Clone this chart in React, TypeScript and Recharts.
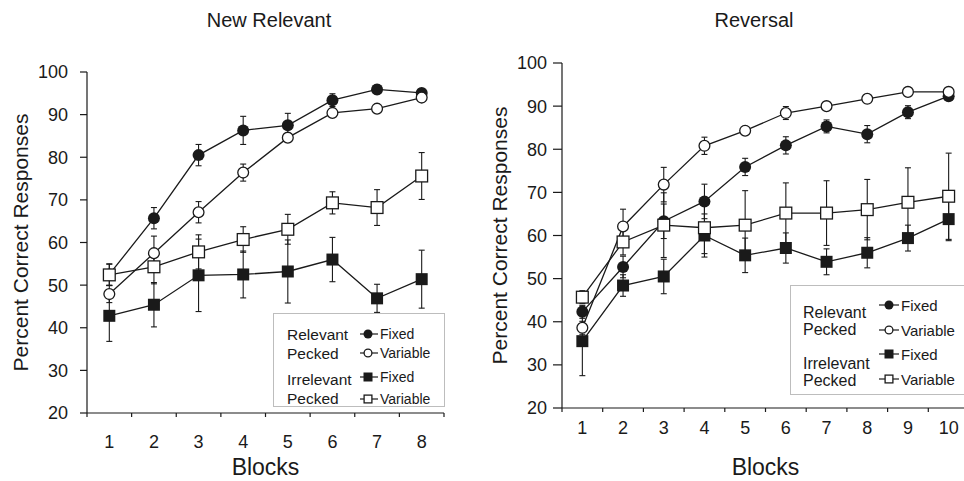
import React from 'react';
import { LineChart, Line, XAxis, YAxis, ErrorBar, Legend } from 'recharts';

const FONT = '"Liberation Sans", Arial, Helvetica, sans-serif';
const INK = '#1a1a1a';

// ---- New Relevant panel ----
const nrBlocks = [1, 2, 3, 4, 5, 6, 7, 8];
const nrRelFixed = [52.5, 65.7, 80.5, 86.3, 87.5, 93.4, 95.9, 95.1];
const nrRelFixedErr = [2.5, 2.5, 2.5, 3.3, 2.8, 1.5, 1, 1];
const nrRelVar = [47.9, 57.5, 67.1, 76.4, 84.6, 90.4, 91.4, 94.0];
const nrRelVarErr = [2, 4, 2.5, 2, 1, 1, 1, 1];
const nrIrrFixed = [42.8, 45.4, 52.3, 52.5, 53.2, 56.0, 46.9, 51.4];
const nrIrrFixedErr = [6, 5.2, 8.5, 5.5, 7.4, 5.2, 3.3, 6.8];
const nrIrrVar = [52.4, 54.3, 57.8, 60.7, 63.1, 69.3, 68.2, 75.6];
const nrIrrVarErr = [2.5, 4, 4, 3, 3.5, 2.6, 4.2, 5.5];

// ---- Reversal panel ----
const rvBlocks = [1, 2, 3, 4, 5, 6, 7, 8, 9, 10];
const rvRelFixed = [42.3, 52.7, 63.3, 67.9, 75.9, 80.9, 85.3, 83.5, 88.6, 92.3];
const rvRelFixedErr = [1.5, 2.5, 4, 4, 2, 2, 1.5, 2, 1.5, 1];
const rvRelVar = [38.6, 62.1, 71.8, 80.8, 84.3, 88.4, 90.0, 91.7, 93.3, 93.3];
const rvRelVarErr = [1.5, 4, 4, 2, 1, 1.5, 1, 1, 1, 1];
const rvIrrFixed = [35.5, 48.4, 50.5, 60.0, 55.4, 57.1, 53.9, 56.0, 59.4, 63.8];
const rvIrrFixedErr = [8, 2.5, 4, 5, 4, 3.5, 3, 3.5, 3, 5];
const rvIrrVar = [45.7, 58.5, 62.4, 61.8, 62.4, 65.2, 65.2, 66.0, 67.7, 69.1];
const rvIrrVarErr = [1.5, 3, 7.5, 6, 8, 7, 7.5, 7, 8, 10];

const yTicks = [20, 30, 40, 50, 60, 70, 80, 90, 100];
const titles = ['New Relevant', 'Reversal'];
const yLabel = 'Percent Correct Responses';
const xLabel = 'Blocks';
const legendGroups = [
  { lines: ['Relevant', 'Pecked'], items: [{ label: 'Fixed', shape: 'fc' }, { label: 'Variable', shape: 'oc' }] },
  { lines: ['Irrelevant', 'Pecked'], items: [{ label: 'Fixed', shape: 'fs' }, { label: 'Variable', shape: 'os' }] },
];

function buildData(blocks: number[], rf: number[], rfe: number[], rv: number[], rve: number[], if_: number[], ife: number[], iv: number[], ive: number[]) {
  return blocks.map((b, i) => ({
    block: b,
    relFixed: rf[i], relFixedErr: rfe[i],
    relVar: rv[i], relVarErr: rve[i],
    irrFixed: if_[i], irrFixedErr: ife[i],
    irrVar: iv[i], irrVarErr: ive[i],
  }));
}

function halfTicks(blocks: number[]) {
  const t: number[] = [];
  blocks.forEach((b) => { t.push(b - 0.5); t.push(b); });
  t.push(blocks[blocks.length - 1] + 0.5);
  return t;
}

function Marker({ shape, cx, cy, size }: { shape: string; cx: number; cy: number; size: number }) {
  const r = size / 2;
  if (shape === 'fc') return <circle cx={cx} cy={cy} r={r} fill={INK} />;
  if (shape === 'oc') return <circle cx={cx} cy={cy} r={r - 0.6} fill="#fff" stroke={INK} strokeWidth={1.3} />;
  if (shape === 'fs') return <rect x={cx - r} y={cy - r} width={size} height={size} fill={INK} />;
  return <rect x={cx - r + 0.6} y={cy - r + 0.6} width={size - 1.2} height={size - 1.2} fill="#fff" stroke={INK} strokeWidth={1.3} />;
}

const dotFn = (shape: string, size: number) => (p: any) => {
  if (p.cx == null || p.cy == null) return <g key={p.index} />;
  return (
    <g key={`${shape}-${p.index}`}>
      <Marker shape={shape} cx={p.cx} cy={p.cy} size={size} />
    </g>
  );
};

const makeXTick = (gap: number, fontSize: number) => (props: any) => {
  const { x, y, payload } = props;
  const v = payload.value;
  if (!Number.isInteger(v)) {
    return <line x1={x} x2={x} y1={y - gap} y2={y - gap + 4} stroke={INK} strokeWidth={1.2} />;
  }
  return (
    <text x={x} y={y} dy="0.71em" textAnchor="middle" fontSize={fontSize} fill={INK} fontFamily={FONT}>
      {v}
    </text>
  );
};

type LegendLayout = {
  width: number; height: number; textX: number; textRows: number[]; markerRows: number[];
  lineX1: number; lineX2: number; markerX: number; labelX: number; titleSize: number; labelSize: number;
};

function PanelLegend({ L }: { L: LegendLayout }) {
  return (
    <div style={{ width: L.width, height: L.height, border: '1px solid #bdbdbd', background: '#fff', boxSizing: 'border-box' }}>
      <svg width={L.width - 2} height={L.height - 2} style={{ display: 'block' }}>
        {legendGroups.map((g, gi) => (
          <g key={gi}>
            {g.lines.map((ln, li) => (
              <text key={li} x={L.textX} y={L.textRows[gi * 2 + li]} dominantBaseline="central" fontSize={L.titleSize} fill={INK} fontFamily={FONT}>
                {ln}
              </text>
            ))}
            {g.items.map((it, ii) => {
              const y = L.markerRows[gi * 2 + ii];
              return (
                <g key={ii}>
                  <line x1={L.lineX1} x2={L.lineX2} y1={y} y2={y} stroke={INK} strokeWidth={1.2} />
                  <Marker shape={it.shape} cx={L.markerX} cy={y} size={9} />
                  <text x={L.labelX} y={y} dominantBaseline="central" fontSize={L.labelSize} fill={INK} fontFamily={FONT}>
                    {it.label}
                  </text>
                </g>
              );
            })}
          </g>
        ))}
      </svg>
    </div>
  );
}

type PanelProps = {
  data: any[]; blocks: number[]; width: number; height: number;
  margin: { top: number; right: number; bottom: number; left: number };
  yAxisWidth: number; xAxisHeight: number; yTickSize: number; yTickMargin: number;
  xTickGap: number; yLabelOffset: number; xLabelOffset: number;
  legend: LegendLayout; legendPos: { left: number; top: number };
};

function Panel(p: PanelProps) {
  const ticks = halfTicks(p.blocks);
  const lo = p.blocks[0] - 0.5;
  const hi = p.blocks[p.blocks.length - 1] + 0.5;
  const lineProps = { stroke: INK, strokeWidth: 1.3, isAnimationActive: false, type: 'linear' as const };
  const eb = { width: 3, stroke: INK, strokeWidth: 1.1, direction: 'y' as const };
  return (
    <LineChart width={p.width} height={p.height} data={p.data} margin={p.margin}>
      <XAxis
        dataKey="block"
        type="number"
        domain={[lo, hi]}
        ticks={ticks}
        interval={0}
        height={p.xAxisHeight}
        tickSize={0}
        tickMargin={p.xTickGap}
        tickLine={false}
        stroke={INK}
        strokeWidth={1.2}
        tick={makeXTick(p.xTickGap, 18)}
        label={{ value: xLabel, position: 'insideBottom', offset: p.xLabelOffset, fontSize: 23, fill: INK, fontFamily: FONT }}
      />
      <YAxis
        type="number"
        domain={[20, 100]}
        ticks={yTicks}
        interval={0}
        width={p.yAxisWidth}
        tickSize={p.yTickSize}
        tickMargin={p.yTickMargin}
        stroke={INK}
        strokeWidth={1.2}
        tick={{ fontSize: 18, fill: INK, fontFamily: FONT }}
        label={{ value: yLabel, angle: -90, position: 'insideLeft', offset: p.yLabelOffset, fontSize: 21, fill: INK, fontFamily: FONT, style: { textAnchor: 'middle' } }}
      />
      <Line dataKey="relFixed" name="Relevant Pecked Fixed" {...lineProps} dot={dotFn('fc', 12)}>
        <ErrorBar dataKey="relFixedErr" {...eb} />
      </Line>
      <Line dataKey="relVar" name="Relevant Pecked Variable" {...lineProps} dot={dotFn('oc', 12)}>
        <ErrorBar dataKey="relVarErr" {...eb} />
      </Line>
      <Line dataKey="irrFixed" name="Irrelevant Pecked Fixed" {...lineProps} dot={dotFn('fs', 12)}>
        <ErrorBar dataKey="irrFixedErr" {...eb} />
      </Line>
      <Line dataKey="irrVar" name="Irrelevant Pecked Variable" {...lineProps} dot={dotFn('os', 13)}>
        <ErrorBar dataKey="irrVarErr" {...eb} />
      </Line>
      <Legend
        layout="horizontal"
        verticalAlign="middle"
        align="center"
        content={() => <PanelLegend L={p.legend} />}
        wrapperStyle={{ left: p.legendPos.left, top: p.legendPos.top, width: p.legend.width, height: p.legend.height }}
      />
    </LineChart>
  );
}

export default function App() {
  const nrData = buildData(nrBlocks, nrRelFixed, nrRelFixedErr, nrRelVar, nrRelVarErr, nrIrrFixed, nrIrrFixedErr, nrIrrVar, nrIrrVarErr);
  const rvData = buildData(rvBlocks, rvRelFixed, rvRelFixedErr, rvRelVar, rvRelVarErr, rvIrrFixed, rvIrrFixedErr, rvIrrVar, rvIrrVarErr);
  return (
    <div style={{ position: 'absolute', left: 0, top: 0, width: 964, height: 481, overflow: 'hidden', background: '#fff', fontFamily: FONT }}>
      <div style={{ position: 'absolute', left: 0, top: 0 }}>
        <Panel
          data={nrData}
          blocks={nrBlocks}
          width={480}
          height={481}
          margin={{ top: 72, right: 36, bottom: 0, left: 0 }}
          yAxisWidth={87}
          xAxisHeight={68}
          yTickSize={7}
          yTickMargin={12}
          xTickGap={22}
          yLabelOffset={21}
          xLabelOffset={6}
          legend={{ width: 172, height: 94, textX: 13, textRows: [20, 39, 65, 84], markerRows: [20, 39, 63, 85], lineX1: 86, lineX2: 104, markerX: 94, labelX: 106, titleSize: 15.5, labelSize: 14 }}
          legendPos={{ left: 273, top: 313 }}
        />
      </div>
      <div style={{ position: 'absolute', left: 480, top: 0 }}>
        <Panel
          data={rvData}
          blocks={rvBlocks}
          width={490}
          height={481}
          margin={{ top: 63, right: 1, bottom: 0, left: 0 }}
          yAxisWidth={82}
          xAxisHeight={73}
          yTickSize={9}
          yTickMargin={6}
          xTickGap={13}
          yLabelOffset={20}
          xLabelOffset={6}
          legend={{ width: 180, height: 110, textX: 12, textRows: [26, 43, 77, 94], markerRows: [19, 44, 68, 93], lineX1: 88, lineX2: 108, markerX: 98, labelX: 110, titleSize: 16, labelSize: 15 }}
          legendPos={{ left: 310, top: 285 }}
        />
      </div>
      <div style={{ position: 'absolute', left: 269, top: 9, transform: 'translateX(-50%)', fontSize: 20, lineHeight: '22px', color: INK, whiteSpace: 'nowrap' }}>
        {titles[0]}
      </div>
      <div style={{ position: 'absolute', left: 754, top: 9, transform: 'translateX(-50%)', fontSize: 20, lineHeight: '22px', color: INK, whiteSpace: 'nowrap' }}>
        {titles[1]}
      </div>
    </div>
  );
}
